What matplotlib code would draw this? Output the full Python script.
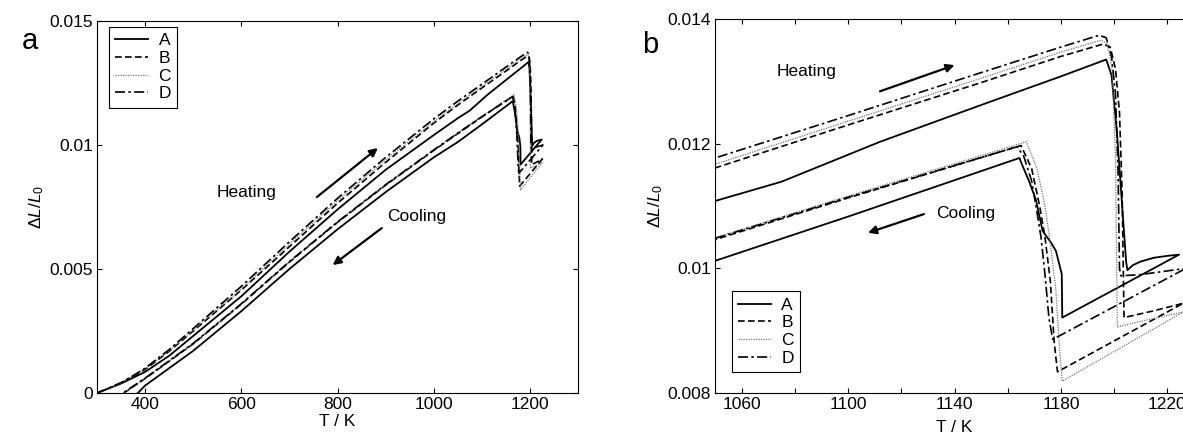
import numpy as np
import matplotlib.pyplot as plt

plt.rcParams['font.family'] = ['Liberation Sans', 'DejaVu Sans']
plt.rcParams['mathtext.fontset'] = 'custom'
plt.rcParams['mathtext.rm'] = 'Liberation Sans'
plt.rcParams['mathtext.it'] = 'Liberation Sans:italic'

# heating runs (T in K, dL/L0)
A_heat_T = [300, 350, 400, 450, 500, 600, 700, 800, 900, 1000, 1050, 1075, 1112, 1150, 1180,
            1197, 1199, 1201, 1203, 1204.5, 1205, 1207, 1210, 1215, 1220, 1224.4]
A_heat_v = [0, 0.00038, 0.00085, 0.0015, 0.0023, 0.0039, 0.0057, 0.0074, 0.0090, 0.01040,
            0.01108, 0.01139, 0.01203, 0.01262, 0.01308, 0.01335, 0.0131, 0.0122, 0.0110,
            0.0101, 0.00997, 0.01005, 0.01011, 0.01017, 0.0102, 0.01022]
B_heat_T = [300, 350, 400, 450, 500, 600, 700, 800, 900, 1000, 1050, 1100, 1150, 1180,
            1196, 1198.5, 1200.5, 1202, 1203, 1203.7, 1215, 1226]
B_heat_v = [0, 0.0004, 0.00095, 0.00168, 0.0025, 0.00415, 0.0059, 0.00765, 0.0093, 0.01088,
            0.01161, 0.0123, 0.01298, 0.0134, 0.0136, 0.01355, 0.0132, 0.0125, 0.0112,
            0.00921, 0.00932, 0.00944]
C_heat_T = [300, 350, 400, 450, 500, 600, 700, 800, 900, 1000, 1050, 1100, 1150, 1180,
            1195, 1197.5, 1199.2, 1200.5, 1201.2, 1210, 1226]
C_heat_v = [0, 0.0004, 0.00098, 0.0017, 0.00255, 0.0042, 0.0060, 0.00775, 0.0094, 0.01095,
            0.01167, 0.01236, 0.01305, 0.01347, 0.01366, 0.0136, 0.0132, 0.0118, 0.00906,
            0.00915, 0.0093]
D_heat_T = [300, 325, 350, 375, 400, 450, 500, 600, 700, 800, 900, 1000, 1050, 1100, 1150,
            1180, 1194.4, 1197, 1199, 1200.5, 1201.5, 1202, 1202.5, 1210, 1227]
D_heat_v = [0, 0.0002, 0.00042, 0.0007, 0.0010, 0.00175, 0.0026, 0.0043, 0.0061, 0.00785,
            0.0095, 0.01105, 0.01177, 0.01245, 0.01314, 0.01355, 0.01374, 0.0137, 0.0134,
            0.0128, 0.0115, 0.0100, 0.00988, 0.0099, 0.0100]

# cooling runs
A_cool_T = [1224.4, 1180.5, 1180.3, 1178.1, 1176.3, 1173.1, 1170.6, 1168, 1166, 1164.4,
            1100, 1050, 1000, 900, 800, 700, 600, 500, 450, 400, 385, 350, 300]
A_cool_v = [0.01022, 0.00921, 0.00991, 0.01028, 0.01041, 0.0106, 0.0111, 0.0114, 0.0116,
            0.01177, 0.01083, 0.01012, 0.0095, 0.0081, 0.0066, 0.0050, 0.0033, 0.0017,
            0.0010, 0.0003, 0.0, -0.0004, -0.0009]
B_cool_T = [1226, 1178.7, 1177.5, 1176, 1174, 1172, 1169, 1165, 1100, 1050, 1000, 900, 800,
            700, 600, 500, 450, 400, 356, 300]
B_cool_v = [0.00944, 0.00834, 0.0088, 0.0098, 0.0105, 0.0110, 0.0116, 0.01197, 0.01113,
            0.01046, 0.00978, 0.00838, 0.00688, 0.00528, 0.00358, 0.00198, 0.00128,
            0.00058, 0.0, -0.0007]
C_cool_T = [1226, 1180.5, 1179.5, 1178, 1176, 1174, 1171, 1167, 1100, 1050, 1000, 900, 800,
            700, 600, 500, 450, 400, 357, 300]
C_cool_v = [0.0093, 0.00819, 0.0087, 0.0097, 0.0104, 0.0110, 0.0116, 0.01203, 0.01116,
            0.01049, 0.0098, 0.0084, 0.0069, 0.0053, 0.0036, 0.0020, 0.0013, 0.0006, 0.0,
            -0.0007]
D_cool_T = [1227, 1176.9, 1175.5, 1174, 1172.5, 1171, 1169, 1166, 1163.5, 1100, 1050, 1000,
            900, 800, 700, 600, 500, 450, 400, 354, 300]
D_cool_v = [0.0100, 0.00886, 0.0092, 0.0099, 0.0105, 0.0109, 0.0114, 0.0118, 0.01195,
            0.01114, 0.01048, 0.0098, 0.0084, 0.0069, 0.0053, 0.0036, 0.0020, 0.0013,
            0.0006, 0.0, -0.0007]

samples = ['A', 'B', 'C', 'D']
runs = {
    'A': (A_heat_T, A_heat_v, A_cool_T, A_cool_v),
    'B': (B_heat_T, B_heat_v, B_cool_T, B_cool_v),
    'C': (C_heat_T, C_heat_v, C_cool_T, C_cool_v),
    'D': (D_heat_T, D_heat_v, D_cool_T, D_cool_v),
}
styles = {
    'A': dict(color='k', lw=1.3, ls='-'),
    'B': dict(color='k', lw=1.2, ls=(0, (4, 2))),
    'C': dict(color='0.45', lw=0.9, ls=(0, (1, 1))),
    'D': dict(color='k', lw=1.2, ls=(0, (6, 2, 1.5, 2))),
}

a_xticks = [400, 600, 800, 1000, 1200]
a_yticks = [0, 0.005, 0.01, 0.015]
a_ylabels = ['0', '0.005', '0.01', '0.015']
b_xticks = [1060, 1100, 1140, 1180, 1220]
b_xminor = [1080, 1120, 1160, 1200]
b_yticks = [0.008, 0.01, 0.012, 0.014]
b_ylabels = ['0.008', '0.01', '0.012', '0.014']

fig = plt.figure(figsize=(11.83, 4.33), dpi=100)
ax1 = fig.add_axes([0.082, 0.0924, 0.4066, 0.859])
ax2 = fig.add_axes([0.6044, 0.0924, 0.4049, 0.8637])

for ax in (ax1, ax2):
    for s in samples:
        hT, hv, cT, cv = runs[s]
        T = np.concatenate([hT, cT])
        v = np.concatenate([hv, cv])
        ax.plot(T, v, label=s, **styles[s])
    ax.tick_params(direction='in', top=True, right=True, length=3.5, width=0.8,
                   labelsize=12.5, pad=3)
    ax.tick_params(which='minor', direction='in', top=True, right=True, length=3.5, width=0.8)
    for sp in ax.spines.values():
        sp.set_linewidth(0.8)
    ax.set_ylabel(r'$\Delta L/L_0$', fontsize=12.5, labelpad=2)

ax1.set_xlim(300, 1300)
ax1.set_ylim(0, 0.015)
ax1.set_xticks(a_xticks)
ax1.set_yticks(a_yticks)
ax1.set_yticklabels(a_ylabels)
ax1.set_xlabel('T / K', fontsize=12.5, labelpad=1)

ax2.set_xlim(1050, 1230)
ax2.set_ylim(0.008, 0.014)
ax2.set_xticks(b_xticks)
ax2.set_xticks(b_xminor, minor=True)
ax2.set_yticks(b_yticks)
ax2.set_yticklabels(b_ylabels)
ax2.set_xlabel('T / K', fontsize=12.5, labelpad=6)

leg_kw = dict(fontsize=12.5, fancybox=False, edgecolor='k', framealpha=1,
              handlelength=1.9, labelspacing=0.15, borderpad=0.35, handletextpad=0.6,
              borderaxespad=0)
l1 = ax1.legend(loc='upper left', bbox_to_anchor=(0.025, 0.984), **leg_kw)
l2 = ax2.legend(loc='lower left', bbox_to_anchor=(0.035, 0.056), **leg_kw)
for l in (l1, l2):
    l.get_frame().set_linewidth(0.8)

arrow = dict(arrowstyle='-|>', lw=1.6, color='k', mutation_scale=12, shrinkA=0, shrinkB=0)
ax1.text(610, 0.0081, 'Heating', fontsize=12.5, ha='center', va='center')
ax1.annotate('', xy=(884, 0.00988), xytext=(757, 0.0079), arrowprops=arrow)
ax1.text(903, 0.0071, 'Cooling', fontsize=12.5, ha='left', va='center')
ax1.annotate('', xy=(790, 0.00516), xytext=(892, 0.00665), arrowprops=arrow)

ax2.text(1084.5, 0.01315, 'Heating', fontsize=12.5, ha='center', va='center')
ax2.annotate('', xy=(1140, 0.01326), xytext=(1112, 0.01284), arrowprops=arrow)
ax2.text(1133, 0.01088, 'Cooling', fontsize=12.5, ha='left', va='center')
ax2.annotate('', xy=(1107.5, 0.01057), xytext=(1128.5, 0.01087), arrowprops=arrow)

fig.text(0.025, 0.905, 'a', fontsize=21, ha='center', va='center')
fig.text(0.5495, 0.895, 'b', fontsize=21, ha='center', va='center')

fig.savefig('out.png', dpi=100)
